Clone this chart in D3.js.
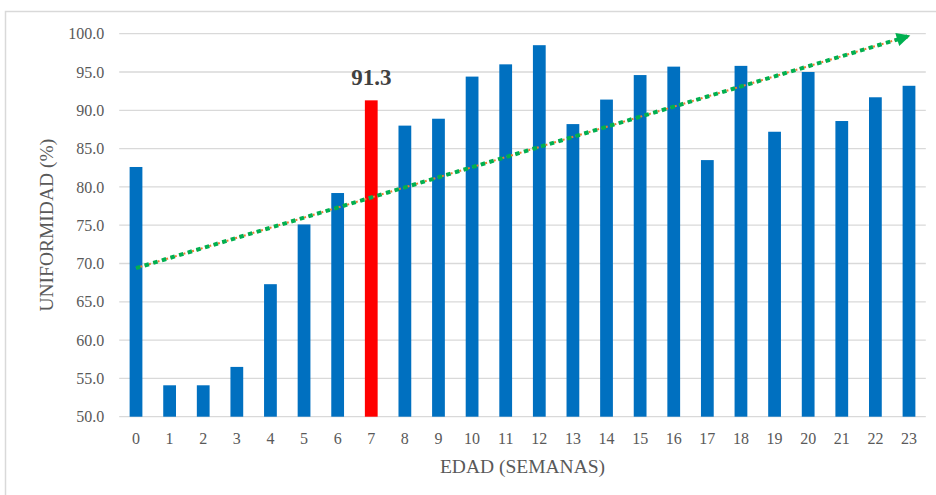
<!DOCTYPE html>
<html>
<head>
<meta charset="utf-8">
<script src="https://cdn.jsdelivr.net/npm/d3@7"></script>
<style>
    body { margin: 0; background: #fff; }
    text { font-family: "Liberation Serif", "Times New Roman", serif; }
</style>
</head>
<body>
<div id="chart"></div>
<script>
// data
const weeks = ["0", "1", "2", "3", "4", "5", "6", "7", "8", "9", "10", "11",
    "12", "13", "14", "15", "16", "17", "18", "19", "20", "21", "22", "23"];
const uniformity = [82.6, 54.1, 54.1, 56.5, 67.3, 75.1, 79.2, 91.3, 88.0, 88.9, 94.4, 96.0,
    98.5, 88.2, 91.4, 94.6, 95.7, 83.5, 95.8, 87.2, 95.0, 88.6, 91.7, 93.2];
const highlightWeek = "7";
const trendWeeks = ["0", "23"];
const trendValues = [69.4, 99.7];
const yTicks = [50, 55, 60, 65, 70, 75, 80, 85, 90, 95, 100];

// dimensions
const W = 936, H = 495;
const margin = { top: 33.7, right: 10.2, bottom: 78.3, left: 119.2 },
    width = W - margin.left - margin.right,
    height = H - margin.top - margin.bottom;

const root = d3.select("#chart")
    .append("svg")
    .attr("width", W)
    .attr("height", H);

// outer frame
root.append("rect")
    .attr("x", 5.5).attr("y", 11.5)
    .attr("width", W + 20).attr("height", H + 20)
    .attr("fill", "none")
    .attr("stroke", "#d9d9d9")
    .attr("stroke-width", 1.5);

const svg = root.append("g")
    .attr("transform", `translate(${margin.left},${margin.top})`);

// scales
const x = d3.scaleBand()
    .domain(weeks)
    .range([0, width])
    .paddingInner(0.62)
    .paddingOuter(0.31);

const y = d3.scaleLinear()
    .domain([50, 100])
    .range([height, 0]);

// gridlines
svg.append("g")
    .selectAll("line")
    .data(yTicks)
    .join("line")
    .attr("x1", 0).attr("x2", width)
    .attr("y1", d => y(d)).attr("y2", d => y(d))
    .attr("stroke", "#d9d9d9")
    .attr("stroke-width", 1.3);

// Y axis labels
const yAxis = svg.append("g")
    .call(d3.axisLeft(y).tickValues(yTicks).tickFormat(d3.format(".1f")).tickSize(0).tickPadding(15));
yAxis.select(".domain").remove();
yAxis.selectAll("text")
    .attr("fill", "#595959")
    .style("font-size", "16px")
    .style("font-family", "'Liberation Serif', serif");

// X axis labels
const xAxis = svg.append("g")
    .attr("transform", `translate(0, ${height})`)
    .call(d3.axisBottom(x).tickSize(0).tickPadding(16));
xAxis.select(".domain").remove();
xAxis.selectAll("text")
    .attr("fill", "#595959")
    .style("font-size", "16px")
    .style("font-family", "'Liberation Serif', serif");

// bars
svg.append("g")
    .selectAll("rect")
    .data(weeks)
    .join("rect")
    .attr("x", d => x(d))
    .attr("width", x.bandwidth())
    .attr("y", (d, i) => y(uniformity[i]))
    .attr("height", (d, i) => height - y(uniformity[i]))
    .attr("fill", d => d == highlightWeek ? "#ff0000" : "#0070c0");

// label on the highlighted bar
const hi = weeks.indexOf(highlightWeek);
svg.append("text")
    .attr("x", x(highlightWeek) + x.bandwidth() / 2)
    .attr("y", y(uniformity[hi]) - 15)
    .attr("text-anchor", "middle")
    .attr("fill", "#404040")
    .style("font-size", "23px")
    .style("font-weight", "bold")
    .text(uniformity[hi].toFixed(1));

// trend line with arrow
root.append("defs").append("marker")
    .attr("id", "arrow")
    .attr("viewBox", "0 0 10 10")
    .attr("refX", 9).attr("refY", 5)
    .attr("markerWidth", 4.2).attr("markerHeight", 3.4)
    .attr("markerUnits", "strokeWidth")
    .attr("orient", "auto")
    .append("path")
    .attr("d", "M0,0 L10,5 L0,10 Z")
    .attr("fill", "#00b050");

const trendLine = d3.line()
    .x((d, i) => x(trendWeeks[i]) + x.bandwidth() / 2)
    .y(d => y(d));

svg.append("path")
    .datum(trendValues)
    .attr("fill", "none")
    .attr("stroke", "#ed7d31")
    .attr("stroke-width", 2)
    .attr("stroke-dasharray", "2,2.5")
    .attr("d", trendLine);

svg.append("path")
    .datum(trendValues)
    .attr("fill", "none")
    .attr("stroke", "#00b050")
    .attr("stroke-width", 4)
    .attr("stroke-dasharray", "4.5,4.5")
    .attr("marker-end", "url(#arrow)")
    .attr("d", trendLine);

// axis titles
svg.append("text")
    .attr("x", width / 2)
    .attr("y", height + 56)
    .attr("text-anchor", "middle")
    .attr("fill", "#595959")
    .style("font-size", "19.5px")
    .text("EDAD (SEMANAS)");

svg.append("text")
    .attr("transform", `translate(${46 - margin.left}, ${height / 2}) rotate(-90)`)
    .attr("text-anchor", "middle")
    .attr("dy", "0.35em")
    .attr("fill", "#595959")
    .style("font-size", "19.5px")
    .text("UNIFORMIDAD (%)");
</script>
</body>
</html>
